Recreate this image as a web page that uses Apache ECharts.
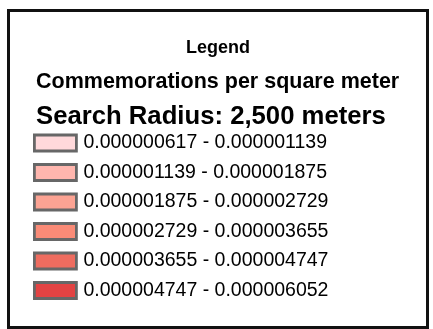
<!DOCTYPE html>
<html>
<head>
<meta charset="utf-8">
<script src="https://cdn.jsdelivr.net/npm/echarts@6/dist/echarts.min.js"></script>
<style>
  html, body { margin: 0; padding: 0; background: #fff; }
  #chart { width: 433px; height: 329px; }
</style>
</head>
<body>
<div id="chart"></div>
<script>
// Density class breaks (commemorations per square meter)
const classBreaks = [0.000000617, 0.000001139, 0.000001875, 0.000002729, 0.000003655, 0.000004747, 0.000006052];
// Fill colour of each class, light to dark
const classColors = ['#ffd9db', '#ffb6ae', '#fca393', '#fa8b77', '#ee6c5f', '#e34343'];
const headingText = 'Legend';
const subtitleText = 'Commemorations per square meter';
const radiusText = 'Search Radius: 2,500 meters';

const FONT = '"Liberation Sans", Arial, Helvetica, sans-serif';

const fmt = v => v.toFixed(9);
const classNames = classColors.map((c, i) => fmt(classBreaks[i]) + ' - ' + fmt(classBreaks[i + 1]));

const chart = echarts.init(document.getElementById('chart'), null, { renderer: 'canvas' });

chart.setOption({
  backgroundColor: '#ffffff',
  animation: false,
  title: [
    {
      text: headingText, left: 218, top: 39, textAlign: 'center', padding: 0,
      textStyle: { fontFamily: FONT, fontSize: 18, fontWeight: 'bold', color: '#000' }
    },
    {
      text: subtitleText, left: 36, top: 71, padding: 0,
      textStyle: { fontFamily: FONT, fontSize: 21.5, fontWeight: 'bold', color: '#000' }
    },
    {
      text: radiusText, left: 36, top: 104, padding: 0,
      textStyle: { fontFamily: FONT, fontSize: 25.7, fontWeight: 'bold', color: '#000' }
    }
  ],
  grid: { show: false, left: 0, right: 0, top: 0, bottom: 0 },
  xAxis: { type: 'category', show: false, data: [] },
  yAxis: { type: 'value', show: false },
  legend: {
    orient: 'vertical',
    left: 33,
    top: 133,
    padding: 0,
    itemWidth: 42,
    itemHeight: 16,
    itemGap: 9.5,
    icon: 'rect',
    selectedMode: false,
    itemStyle: { borderColor: '#676767', borderWidth: 2.8 },
    textStyle: { fontFamily: FONT, fontSize: 19.5, color: '#000', lineHeight: 20, padding: [0, 0, 0, 2] },
    data: classNames
  },
  series: classNames.map((name, i) => ({
    name: name,
    type: 'bar',
    data: [],
    itemStyle: { color: classColors[i], borderColor: '#676767', borderWidth: 2.8 }
  })),
  graphic: [
    {
      type: 'rect',
      shape: { x: 8.5, y: 10.5, width: 419, height: 317 },
      style: { fill: null, stroke: '#111', lineWidth: 3 },
      silent: true
    }
  ]
});
</script>
</body>
</html>
